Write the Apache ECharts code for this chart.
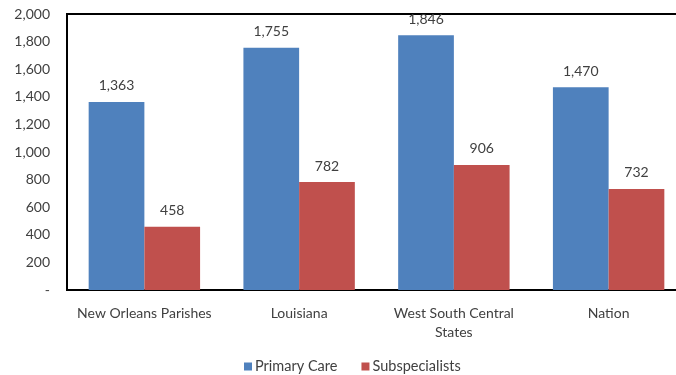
<!DOCTYPE html>
<html>
<head>
<meta charset="utf-8">
<script src="https://cdn.jsdelivr.net/npm/echarts@6/dist/echarts.min.js"></script>
<style>
  html, body { margin: 0; padding: 0; background: #fff; overflow: hidden; }
  #chart { width: 676px; height: 375px; }
</style>
</head>
<body>
<div id="chart"></div>
<script>
// Physicians per 100,000 by area
const categories = ['New Orleans Parishes', 'Louisiana', 'West South Central\nStates', 'Nation'];
const primaryCare = [1363, 1755, 1846, 1470];
const subspecialists = [458, 782, 906, 732];
const seriesNames = ['Primary Care', 'Subspecialists'];

const FONT = 'Lato';
const TEXT = '#404040';

const fmt = v => v === 0 ? '-' : v.toLocaleString('en-US');

const chart = echarts.init(document.getElementById('chart'));
chart.setOption({
  animation: false,
  textStyle: { fontFamily: FONT },
  grid: {
    left: 67, top: 14, width: 619, height: 276,
    outerBoundsMode: 'none',
    containLabel: false,
    show: true, borderColor: '#000', borderWidth: 2, backgroundColor: 'transparent'
  },
  legend: {
    top: 359,
    left: 244,
    padding: 0,
    itemWidth: 8, itemHeight: 8, itemGap: 24,
    icon: 'rect',
    textStyle: { fontFamily: FONT, fontSize: 14.5, color: TEXT, padding: [0, 0, 0, -2] },
    data: seriesNames
  },
  xAxis: {
    type: 'category',
    data: categories,
    axisLine: { show: true, lineStyle: { color: '#000', width: 2 } },
    axisTick: { show: false },
    axisLabel: { color: TEXT, fontSize: 14, fontFamily: FONT, margin: 14, lineHeight: 19, interval: 0 }
  },
  yAxis: {
    type: 'value',
    min: 0, max: 2000, interval: 200,
    axisLine: { show: true, lineStyle: { color: '#000', width: 2 } },
    axisTick: { show: false },
    splitLine: { show: false },
    axisLabel: { color: TEXT, fontSize: 14, fontFamily: FONT, margin: 17, formatter: fmt }
  },
  series: [
    {
      name: seriesNames[0], type: 'bar', data: primaryCare,
      barWidth: '36%', barGap: '0%',
      itemStyle: { color: '#4F81BD' },
      label: { show: true, position: 'top', distance: 9, color: TEXT, fontSize: 14, fontFamily: FONT, formatter: p => fmt(p.value) }
    },
    {
      name: seriesNames[1], type: 'bar', data: subspecialists,
      barWidth: '36%', barGap: '0%',
      itemStyle: { color: '#C0504D' },
      label: { show: true, position: 'top', distance: 9, color: TEXT, fontSize: 14, fontFamily: FONT, formatter: p => fmt(p.value) }
    }
  ]
});
</script>
</body>
</html>
